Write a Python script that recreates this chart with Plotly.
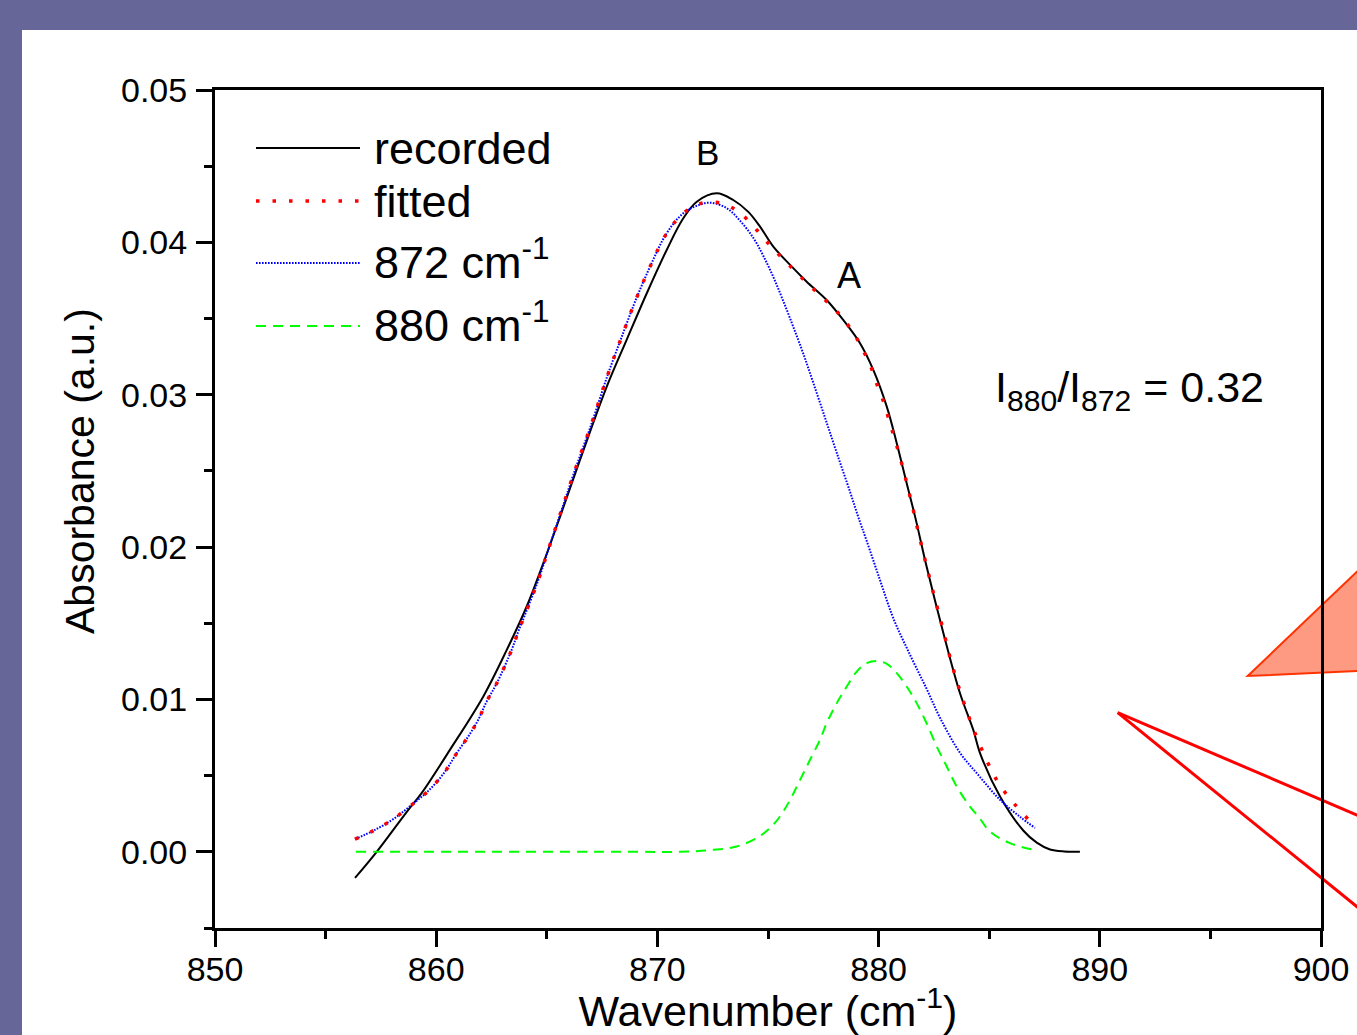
import plotly.graph_objects as go

# ---------------- data ----------------
recorded_x = [856.33, 857.31, 858.74, 859.34, 860.62, 862.13, 863.19, 864.09, 864.84, 865.60,
              866.50, 867.71, 868.61, 869.52, 870.42, 871.17, 871.78, 872.68, 873.43, 874.11,
              874.64, 875.24, 876.00, 876.75, 877.65, 878.40, 879.16, 879.76, 880.37,
              880.82, 881.27, 881.65, 882.17, 882.93, 883.68, 884.28, 884.58, 885.49, 886.54,
              887.15, 887.75, 888.40, 889.10]
recorded_y = [-0.00171, 0.00000, 0.00276, 0.00385, 0.00669, 0.01020, 0.01325, 0.01610, 0.01894, 0.02200,
              0.02572, 0.03053, 0.03360, 0.03666, 0.03950, 0.04158, 0.04267, 0.04322, 0.04278,
              0.04200, 0.04103, 0.03972, 0.03852, 0.03742, 0.03622, 0.03491, 0.03338, 0.03163, 0.02922,
              0.02682, 0.02419, 0.02200, 0.01872, 0.01435, 0.01041, 0.00800, 0.00650, 0.00363, 0.00140,
              0.00060, 0.00015, 0.00002, 0.00000]

band872_x = [856.33, 857.23, 858.06, 858.89, 859.72, 860.40, 860.93, 861.45, 861.90, 862.28,
             862.74, 863.41, 863.71, 864.01, 864.62, 865.14, 865.67, 866.20, 867.03, 867.78,
             868.39, 868.99, 869.67, 870.42, 871.17, 871.78, 872.38, 873.13, 873.73, 874.34,
             874.79, 875.24, 875.69, 876.14, 876.60, 877.05, 877.58, 878.11, 878.71, 879.08,
             879.46, 880.06, 880.66, 881.42, 882.17, 882.78, 883.68, 884.58, 885.49, 886.39,
             887.07]
band872_y = [0.00083, 0.00144, 0.00215, 0.00308, 0.00411, 0.00527, 0.00648, 0.00757, 0.00866, 0.00986,
             0.01107, 0.01325, 0.01446, 0.01555, 0.01785, 0.02014, 0.02244, 0.02474, 0.02813, 0.03141,
             0.03381, 0.03611, 0.03841, 0.04060, 0.04191, 0.04240, 0.04260, 0.04225, 0.04143, 0.04029,
             0.03911, 0.03773, 0.03615, 0.03447, 0.03268, 0.03077, 0.02848, 0.02618, 0.02362, 0.02198,
             0.02041, 0.01785, 0.01535, 0.01293, 0.01070, 0.00879, 0.00650, 0.00492, 0.00341, 0.00230,
             0.00157]

band880_x = [856.37, 862.0, 866.0, 869.0, 871.02, 872.53, 873.58, 874.49, 875.09, 875.54,
             876.00, 876.45, 876.90, 877.35, 877.65, 878.11, 878.56, 879.01, 879.46, 879.91,
             880.37, 880.82, 881.27, 881.72, 882.17, 882.63, 883.08, 883.53, 884.13, 884.51,
             885.04, 885.94, 887.15]
band880_y = [0.0, 0.0, 0.0, 0.0, 0.0, 0.00013, 0.00035, 0.00090, 0.00156, 0.00232,
             0.00341, 0.00472, 0.00604, 0.00735, 0.00844, 0.00976, 0.01085, 0.01183, 0.01238, 0.01253,
             0.01234, 0.01173, 0.01085, 0.00976, 0.00844, 0.00691, 0.00560, 0.00429, 0.00297, 0.00232,
             0.00133, 0.00057, 0.00009]

fitted_x = [856.33, 857.23, 858.06, 858.89, 859.72, 860.40, 860.93, 861.45, 861.90, 862.28,
            862.74, 863.41, 863.71, 864.01, 864.62, 865.14, 865.67, 866.20, 867.03, 867.78,
            868.39, 868.99, 869.67, 870.42, 871.17, 871.78, 872.08, 872.88, 873.70, 874.49,
            875.19, 875.92, 876.70, 877.50, 878.29, 878.89, 879.31, 879.69, 879.96, 880.24,
            880.47, 880.70, 880.94, 881.15, 881.34, 881.54, 881.72, 882.10, 882.50, 882.90,
            883.30, 883.80, 884.36, 885.04, 885.49, 886.09, 886.81, 887.07]
fitted_y = [0.00083, 0.00144, 0.00215, 0.00308, 0.00411, 0.00527, 0.00648, 0.00757, 0.00866, 0.00986,
            0.01107, 0.01325, 0.01446, 0.01555, 0.01785, 0.02014, 0.02244, 0.02474, 0.02813, 0.03141,
            0.03381, 0.03611, 0.03841, 0.04060, 0.04191, 0.04245, 0.04260, 0.04257, 0.04197, 0.04081,
            0.03965, 0.03856, 0.03742, 0.03633, 0.03517, 0.03399, 0.03289, 0.03169, 0.03053, 0.02948,
            0.02835, 0.02725, 0.02605, 0.02491, 0.02380, 0.02262, 0.02146, 0.01916, 0.01686, 0.01468,
            0.01238, 0.01002, 0.00779, 0.00553, 0.00435, 0.00323, 0.00205, 0.00165]

legend_labels = ["recorded", "fitted", "872 cm<sup>-1</sup>", "880 cm<sup>-1</sup>"]
x_range = [850, 900]
y_range = [-0.005, 0.05]

# ---------------- layout helpers (pixel -> paper) ----------------
W, H = 1357, 1035
ML, MR, MT, MB = 215, 36, 90, 107
PW = W - ML - MR
PH = H - MT - MB


def pxx(x):
    return (x - ML) / PW


def pxy(y):
    return (H - MB - y) / PH


FONT = "Liberation Sans, Arial, sans-serif"

styles = [
    dict(color="black", width=2),
    dict(color="#FF0000", width=3.5, dash="3.5px,13px"),
    dict(color="#0000FF", width=2, dash="1.6px,1.4px"),
    dict(color="#00FF00", width=2, dash="10px,7px"),
]

fig = go.Figure()
fig.add_trace(go.Scatter(x=recorded_x, y=recorded_y, mode="lines", name="recorded",
                         line=dict(**styles[0], shape="spline", smoothing=1.0), showlegend=False))
fig.add_trace(go.Scatter(x=band880_x, y=band880_y, mode="lines", name="880 cm-1",
                         line=dict(**styles[3], shape="spline", smoothing=1.0), showlegend=False))
fig.add_trace(go.Scatter(x=band872_x, y=band872_y, mode="lines", name="872 cm-1",
                         line=dict(**styles[2], shape="spline", smoothing=1.0), showlegend=False))
fig.add_trace(go.Scatter(x=fitted_x, y=fitted_y, mode="lines", name="fitted",
                         line=dict(**styles[1], shape="spline", smoothing=1.0), showlegend=False))

shapes = []
# white slide panel on purple background
shapes.append(dict(type="rect", xref="paper", yref="paper", x0=pxx(22), x1=pxx(1420),
                   y0=pxy(1100), y1=pxy(30), fillcolor="white", line=dict(width=0), layer="below"))
# red decorative triangle
tri = [(1247.7, 676), (1380, 549.8), (1380, 670)]
path = "M{},{} L{},{} L{},{} Z".format(pxx(tri[0][0]), pxy(tri[0][1]), pxx(tri[1][0]), pxy(tri[1][1]),
                                       pxx(tri[2][0]), pxy(tri[2][1]))
shapes.append(dict(type="path", xref="paper", yref="paper", path=path, fillcolor="#FF9A82",
                   line=dict(color="#FF3300", width=2), layer="below"))
# red decorative lines
for end in [(1400, 833.4), (1400, 941.6)]:
    shapes.append(dict(type="line", xref="paper", yref="paper", x0=pxx(1117.7), y0=pxy(712.7),
                       x1=pxx(end[0]), y1=pxy(end[1]), line=dict(color="#FF0000", width=3), layer="below"))

# manual legend
legend_rows = [148, 201, 263, 326]
text_rows = [148, 201, 259, 322]
annotations = []
for lab, st, yy, ty in zip(legend_labels, styles, legend_rows, text_rows):
    shapes.append(dict(type="line", xref="paper", yref="paper", x0=pxx(256), x1=pxx(360),
                       y0=pxy(yy), y1=pxy(yy), line=st))
    annotations.append(dict(x=pxx(372), y=pxy(ty), xref="paper", yref="paper", text=lab,
                            showarrow=False, xanchor="left", yanchor="middle",
                            font=dict(family=FONT, size=45, color="black")))

annotations.append(dict(x=pxx(707), y=pxy(152), xref="paper", yref="paper", text="B", showarrow=False,
                        xanchor="center", yanchor="middle",
                        font=dict(family=FONT, size=35, color="black")))
annotations.append(dict(x=pxx(849), y=pxy(275), xref="paper", yref="paper", text="A", showarrow=False,
                        xanchor="center", yanchor="middle",
                        font=dict(family=FONT, size=36, color="black")))
annotations.append(dict(x=pxx(993), y=pxy(390), xref="paper", yref="paper",
                        text="I<sub>880</sub>/I<sub>872</sub> = 0.32", showarrow=False,
                        xanchor="left", yanchor="middle",
                        font=dict(family=FONT, size=43, color="black")))
annotations.append(dict(x=pxx(80), y=pxy(471), xref="paper", yref="paper", text="Absorbance (a.u.)",
                        textangle=-90, showarrow=False, xanchor="center", yanchor="middle",
                        font=dict(family=FONT, size=41, color="black")))

axis_common = dict(showgrid=False, zeroline=False, showline=True, linewidth=3, linecolor="black",
                   mirror=True, ticks="outside", ticklen=16, tickwidth=3, tickcolor="black",
                   automargin=False,
                   tickfont=dict(family=FONT, size=34, color="black"))

fig.update_layout(
    width=W, height=H,
    margin=dict(l=ML, r=MR, t=MT, b=MB, pad=0, autoexpand=False),
    paper_bgcolor="#666699",
    plot_bgcolor="rgba(0,0,0,0)",
    showlegend=False,
    shapes=shapes,
    annotations=annotations,
    xaxis=dict(range=x_range, tick0=850, dtick=10, ticklabelstandoff=-7,
               minor=dict(dtick=5, ticklen=8, tickwidth=3, ticks="outside", tickcolor="black"),
               title=dict(text="Wavenumber (cm<sup>-1</sup>)", standoff=24,
                          font=dict(family=FONT, size=43, color="black")),
               **axis_common),
    yaxis=dict(range=y_range, tick0=0, dtick=0.01, tickformat=".2f", ticklabelstandoff=2,
               minor=dict(dtick=0.005, ticklen=8, tickwidth=3, ticks="outside", tickcolor="black"),
               **axis_common),
)

fig.write_html("out.html", config={"displayModeBar": False},
               post_script="document.body.style.margin='0';document.body.style.overflow='hidden';")
